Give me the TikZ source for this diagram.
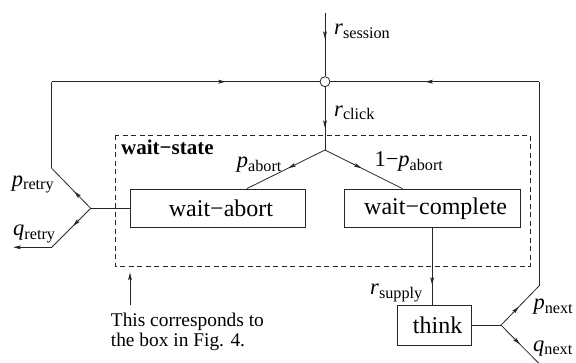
\documentclass[tikz,border=0pt]{standalone}
\usepackage{fontspec}
\setmainfont{Liberation Serif}
\usetikzlibrary{arrows.meta,decorations.markings,calc}

% italic symbol with an upright, lowered subscript
\newcommand\sublbl[2]{\textit{#1}\raisebox{-3.5pt}{\fontsize{16.2}{17}\selectfont #2}}

\tikzset{
  flow/.style={draw=black!85, line width=0.8pt},
  tiphead/.style={-{Stealth[length=7.5pt,width=3.8pt,inset=1.5pt]}},
  midarrow/.style={postaction={decorate},
    decoration={markings, mark=at position #1 with {\arrow{Stealth[length=7.5pt,width=3.8pt,inset=1.5pt]}}}},
  statebox/.style={draw=black!85, line width=0.8pt, fill=white, inner sep=0pt,
    font=\fontsize{24}{28}\selectfont, execute at begin node={\hspace*{7pt}}},
  junction/.style={circle, draw=black!85, line width=0.8pt, fill=white,
    minimum size=10pt, inner sep=0pt},
  rate/.style={font=\fontsize{22.5}{24}\selectfont, inner sep=0pt, anchor=base west},
  note/.style={font=\fontsize{19.4}{20}\selectfont, inner sep=0pt, anchor=base west},
  groupframe/.style={draw=black!85, line width=0.8pt, dash pattern=on 5pt off 3.5pt},
}

\begin{document}
\begin{tikzpicture}[x=1pt,y=-1pt]
\useasboundingbox (0,0) rectangle (576,363);

% dashed frame of the wait state
\draw[groupframe] (115,135.5) rectangle (530,266.5);
\node[anchor=base west, inner sep=0pt, font=\bfseries\fontsize{21}{24}\selectfont]
  (grouptitle) at (121,155) {wait−state};

% states
\node[statebox, minimum width=175pt, minimum height=38.7pt] (abort) at (217.5,208.35) {wait−abort};
\node[statebox, minimum width=175.7pt, minimum height=38.7pt] (complete) at (432.15,208.35) {wait−complete};
\node[statebox, minimum width=73.7pt, minimum height=39.7pt] (think) at (434.15,325.15) {think};

% junctions and bends
\coordinate (top) at (325,13);
\node[junction] (hub) at (325,81.7) {};
\coordinate (fork) at (325,150);
\coordinate (rsplit) at (90.7,208.35);
\coordinate (lbend) at (51.7,168.3);
\coordinate (ltop) at (51.7,81.7);
\coordinate (qbend) at (51.7,247.3);
\coordinate (qend) at (13.3,247.3);
\coordinate (tsplit) at (501,325.15);
\coordinate (rbend) at (539,286);
\coordinate (rtop) at (539,81.7);
\coordinate (nend) at (540.5,365);
\coordinate (notefoot) at (130,305);
\coordinate (notetip) at (130,272.7);

% arrivals and clicks
\draw[flow, midarrow=0.41] (top) -- (hub);
\draw[flow, midarrow=0.65] (hub) -- (fork);
\draw[flow, midarrow=0.47] (fork) -- ($(abort.north west)!0.667!(abort.north east)$);
\draw[flow, midarrow=0.47] (fork) -- ($(complete.north west)!0.332!(complete.north east)$);

% retry loop
\draw[flow] (abort.west) -- (rsplit);
\draw[flow, midarrow=0.42] (rsplit) -- (lbend);
\draw[flow] (lbend) -- (ltop);
\draw[flow, midarrow=0.65] (ltop) -- (hub);
\draw[flow, midarrow=0.45] (rsplit) -- (qbend);
\draw[flow, tiphead] (qbend) -- (qend);

% supply and next page
\draw[flow, midarrow=0.74] (complete.south) -- (complete.south |- think.north);
\draw[flow] (think.east) -- (tsplit);
\draw[flow, midarrow=0.47] (tsplit) -- (rbend);
\draw[flow] (rbend) -- (rtop);
\draw[flow, midarrow=0.545] (rtop) -- (hub);
\draw[flow, midarrow=0.48] (tsplit) -- (nend);

% rate labels
\node[rate] (lsession) at (334,35) {\sublbl{r}{session}};
\node[rate] (lclick) at (334,116.5) {\sublbl{r}{click}};
\node[rate] (labort) at (236.7,168) {\sublbl{p}{abort}};
\node[rate] (lcomplete) at (374.3,167) {1−\sublbl{p}{abort}};
\node[rate] (lretry) at (11.7,186.5) {\sublbl{p}{retry}};
\node[rate] (lgiveup) at (13,236) {\sublbl{q}{retry}};
\node[rate] (lsupply) at (370,295) {\sublbl{r}{supply}};
\node[rate] (lnext) at (533.3,310) {\sublbl{p}{next}};
\node[rate] (lleave) at (533,351.5) {\sublbl{q}{next}};

% note
\draw[flow, tiphead] (notefoot) -- (notetip);
\node[note] (note1) at (110.7,326.7) {This corresponds to};
\node[note] (note2) at (110.7,346.7) {the box in Fig. 4.};
\end{tikzpicture}
\end{document}
